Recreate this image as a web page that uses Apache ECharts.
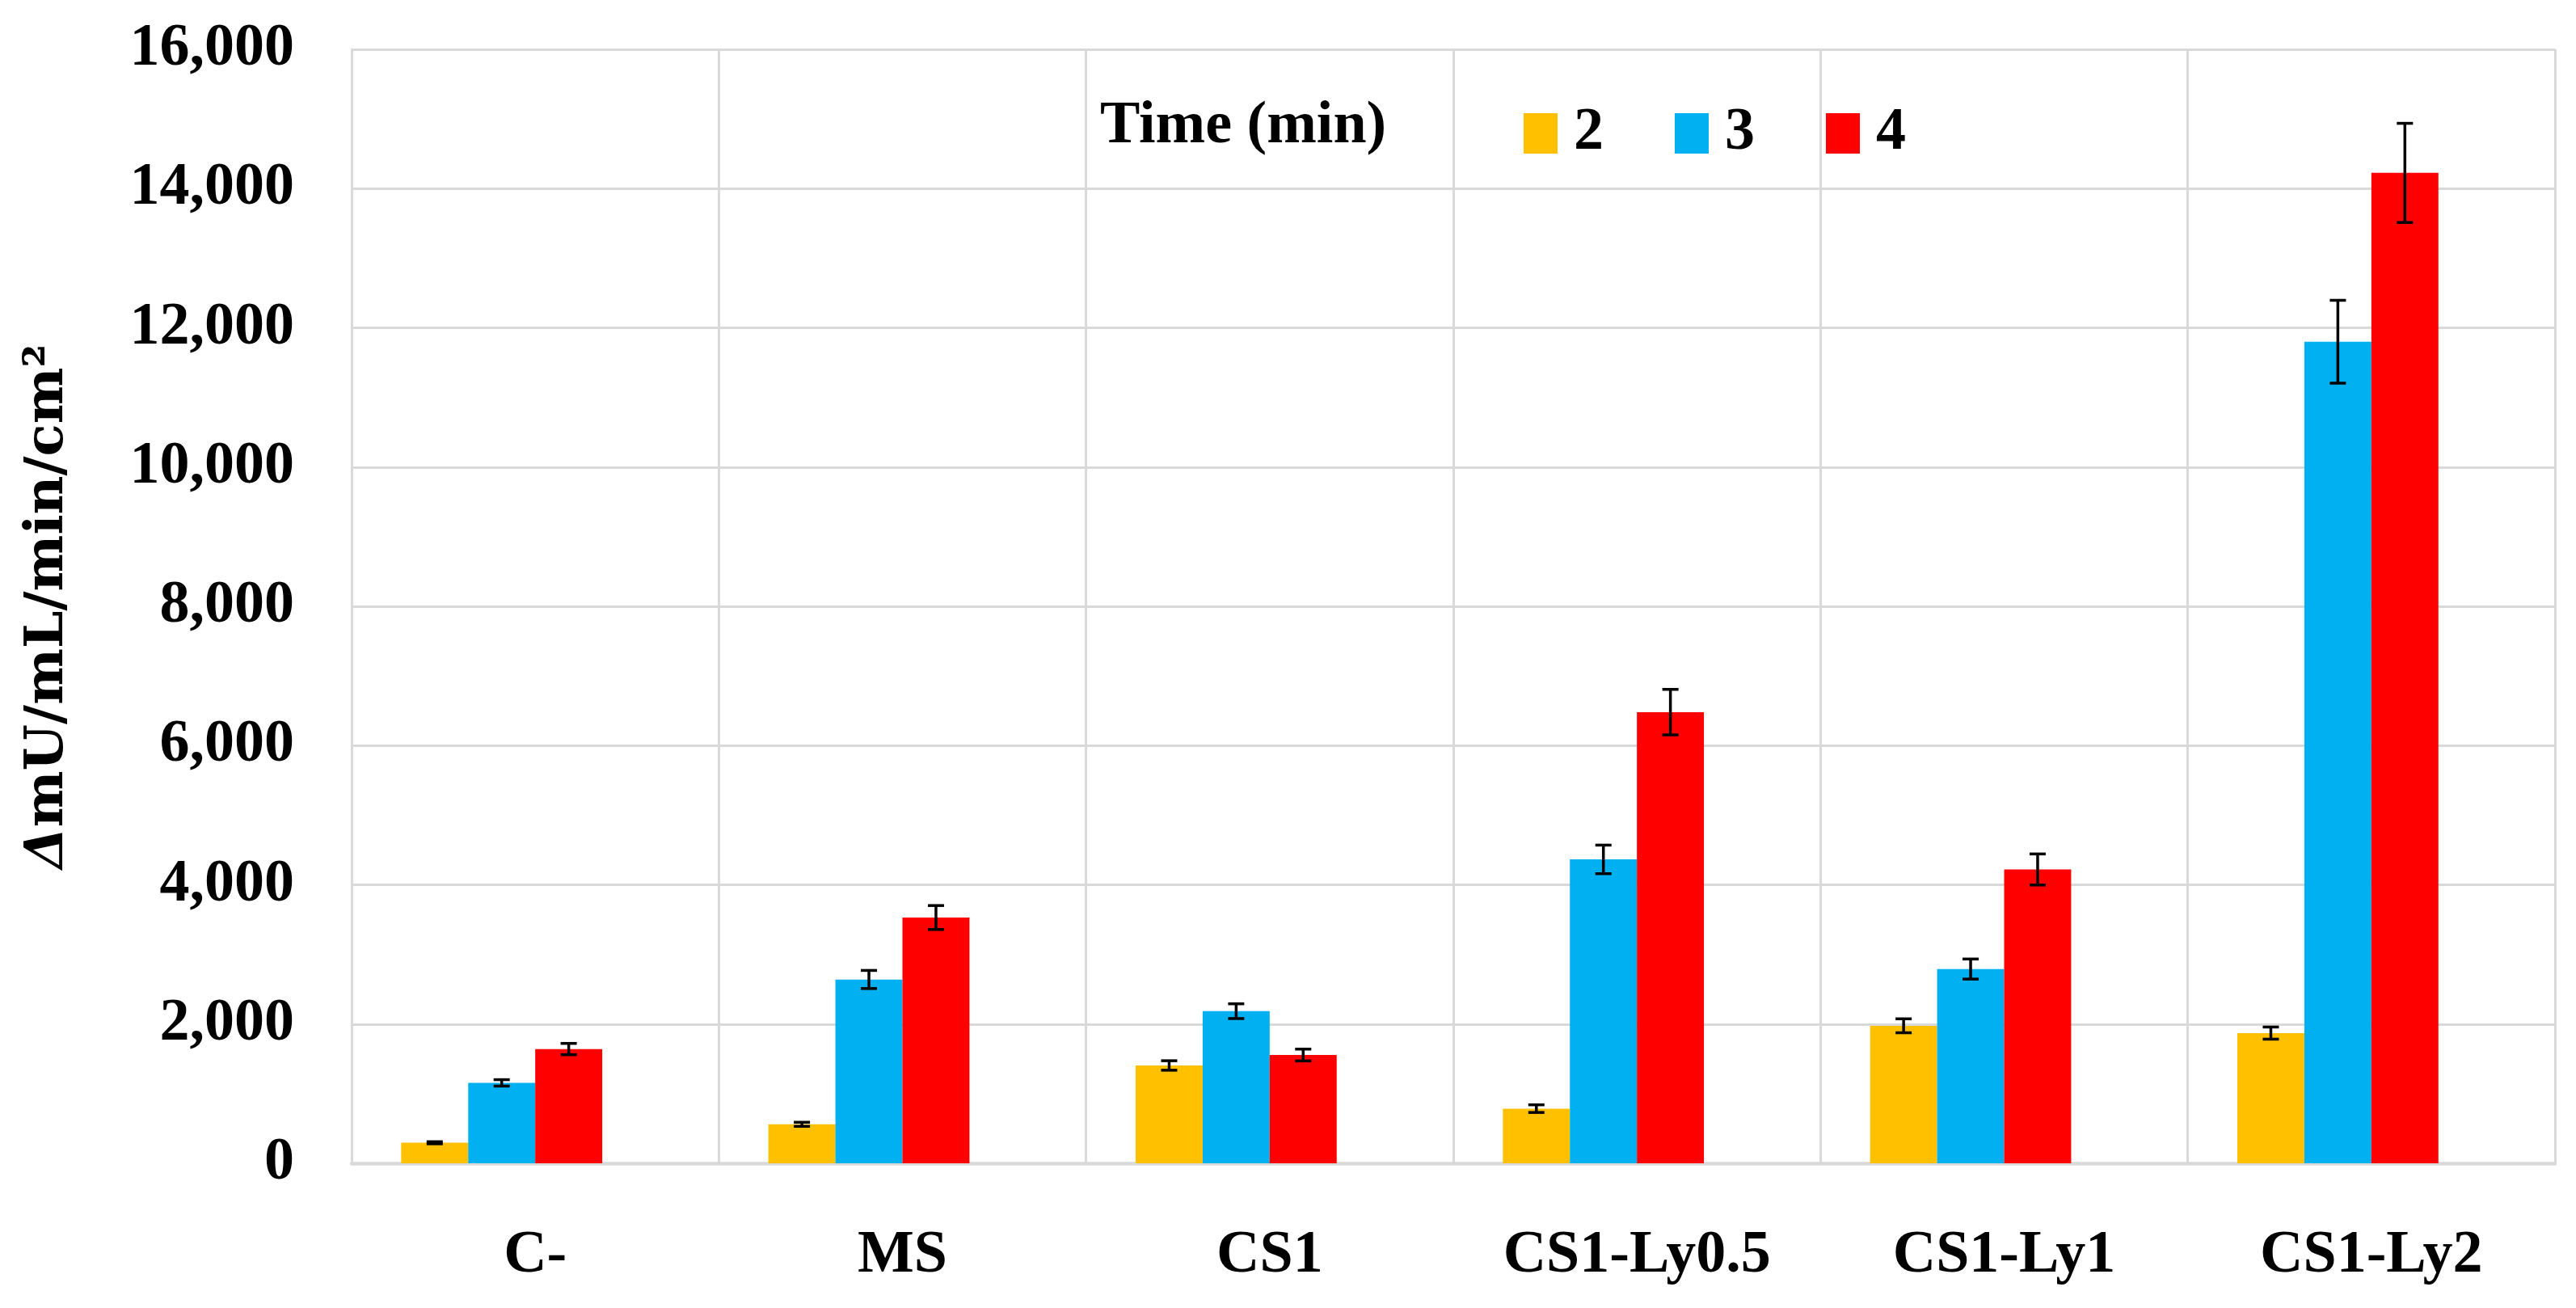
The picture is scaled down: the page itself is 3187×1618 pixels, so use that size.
<!DOCTYPE html>
<html>
<head>
<meta charset="utf-8">
<script src="https://cdn.jsdelivr.net/npm/echarts@6/dist/echarts.min.js"></script>
<style>
html,body{margin:0;padding:0;background:#fff;}
#chart{width:3187px;height:1618px;}
</style>
</head>
<body>
<div id="chart"></div>
<script>
// ---- data ----
const categories = ['C-', 'MS', 'CS1', 'CS1-Ly0.5', 'CS1-Ly1', 'CS1-Ly2'];
const seriesNames = ['2', '3', '4'];
const t2 = [295, 560, 1405, 785, 1975, 1870];
const t3 = [1155, 2640, 2185, 4365, 2790, 11800];
const t4 = [1641, 3530, 1555, 6480, 4220, 14225];
const e2 = [15, 29, 68, 55, 100, 87];
const e3 = [46, 130, 106, 205, 144, 595];
const e4 = [81, 172, 85, 327, 223, 712];
const yTicks = { min: 0, max: 16000, interval: 2000 };
const legendTitle = 'Time (min)';

const colors = ['#FFC000', '#00B0F0', '#FF0000'];
const serif = "'Liberation Serif', 'Times New Roman', serif";
const CAT_GAP = 0.27;     // barCategoryGap
const N_SLOTS = 4;        // 3 visible series + 1 empty slot (as in original)

const values = [t2, t3, t4];
const errors = [e2, e3, e4];

function errRender(slot) {
  return function (params, api) {
    const xi = api.value(0), v = api.value(1), e = api.value(2);
    const band = api.size([1, 0])[0];
    const bw = band * (1 - CAT_GAP) / N_SLOTS;
    const c = api.coord([xi, v]);
    const cx = c[0] - band * (1 - CAT_GAP) / 2 + bw * (slot + 0.5);
    const yt = api.coord([xi, v + e])[1];
    const yb = api.coord([xi, v - e])[1];
    const hw = 10;
    const st = { stroke: '#000', lineWidth: 3.5 };
    return {
      type: 'group',
      children: [
        { type: 'line', shape: { x1: cx, y1: yt, x2: cx, y2: yb }, style: st },
        { type: 'line', shape: { x1: cx - hw, y1: yt, x2: cx + hw, y2: yt }, style: st },
        { type: 'line', shape: { x1: cx - hw, y1: yb, x2: cx + hw, y2: yb }, style: st }
      ]
    };
  };
}

const series = [];
seriesNames.forEach((n, i) => {
  series.push({
    name: n,
    type: 'bar',
    data: values[i],
    itemStyle: { color: colors[i] },
    barGap: '0%',
    barCategoryGap: (CAT_GAP * 100) + '%',
    emphasis: { disabled: true },
    z: 2
  });
});
// empty 4th slot to reproduce the original bar placement
series.push({ name: ' ', type: 'bar', data: [], barGap: '0%', barCategoryGap: (CAT_GAP * 100) + '%' });
seriesNames.forEach((n, i) => {
  series.push({
    name: 'err' + n,
    type: 'custom',
    renderItem: errRender(i),
    data: values[i].map((v, k) => [k, v, errors[i][k]]),
    encode: { x: 0, y: 1 },
    z: 5,
    silent: true
  });
});

const chart = echarts.init(document.getElementById('chart'), null, { renderer: 'canvas' });
chart.setOption({
  backgroundColor: '#ffffff',
  animation: false,
  grid: { left: 435, right: 26, top: 61, bottom: 179, containLabel: false },
  legend: {
    data: seriesNames,
    left: 1880,
    top: 123,
    itemWidth: 42,
    itemHeight: 50,
    itemGap: 88,
    icon: 'rect',
    textStyle: { fontFamily: serif, fontWeight: 'bold', fontSize: 74, color: '#000', lineHeight: 50, height: 50, padding: [0, 0, 0, 15] }
  },
  graphic: [{
    type: 'text',
    x: 1361,
    y: 157,
    style: { text: legendTitle, fontFamily: serif, fontWeight: 'bold', fontSize: 74, fill: '#000', verticalAlign: 'middle', align: 'left' }
  }],
  xAxis: {
    type: 'category',
    data: categories,
    axisLine: { show: true, lineStyle: { color: '#d9d9d9', width: 4.5 } },
    axisTick: { show: false },
    splitLine: { show: true, lineStyle: { color: '#d9d9d9', width: 3 } },
    axisLabel: { fontFamily: serif, fontWeight: 'bold', fontSize: 74, color: '#000', margin: 78, interval: 0 }
  },
  yAxis: {
    type: 'value',
    min: yTicks.min,
    max: yTicks.max,
    interval: yTicks.interval,
    axisLine: { show: true, lineStyle: { color: '#d9d9d9', width: 3 } },
    axisTick: { show: false },
    splitLine: { show: true, lineStyle: { color: '#d9d9d9', width: 3 } },
    axisLabel: {
      fontFamily: serif, fontWeight: 'bold', fontSize: 74, color: '#000', margin: 71,
      formatter: v => v.toLocaleString('en-US')
    },
    name: '{i|Δ}mU/mL/min/cm²',
    nameLocation: 'middle',
    nameGap: 342,
    nameTextStyle: {
      fontFamily: "'DejaVu Serif', serif", fontWeight: 'bold', fontSize: 66, color: '#000',
      rich: { i: { fontFamily: "'DejaVu Serif', serif", fontWeight: 'bold', fontStyle: 'italic', fontSize: 66, color: '#000' } }
    }
  },
  series: series
});
</script>
</body>
</html>
